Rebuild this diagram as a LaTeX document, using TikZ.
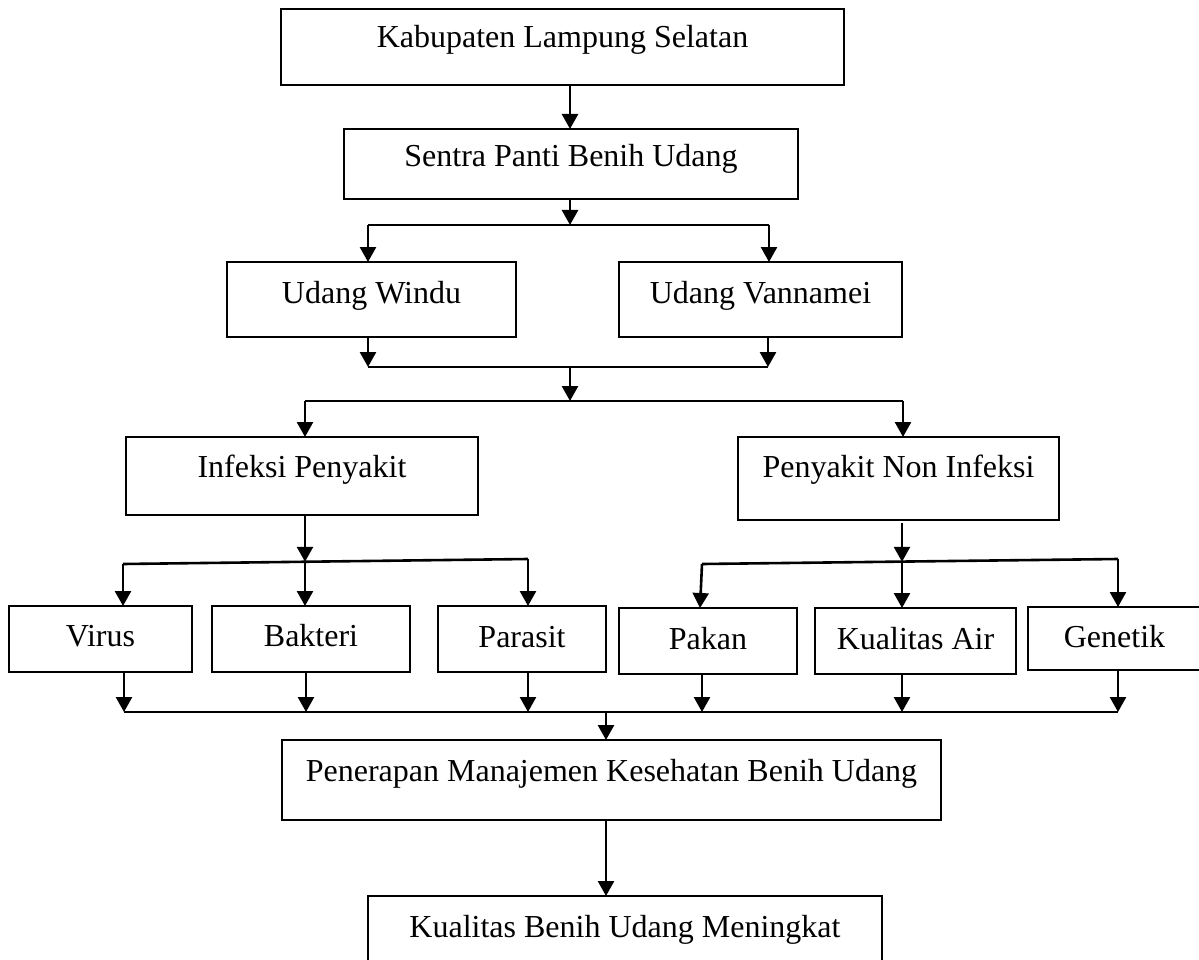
\documentclass[tikz,border=0pt]{standalone}
\usepackage{fontspec}
\setmainfont{Liberation Serif}
\usetikzlibrary{arrows.meta}
\tikzset{
  box/.style={draw, line width=2.8pt, inner xsep=0pt, inner ysep=0pt, outer sep=0pt,
    anchor=north west, align=center, font=\fontsize{32}{38}\selectfont, text height=40pt},
  link/.style={line width=2.6pt},
  arr/.style={line width=2.6pt, -{Triangle[length=15pt,width=16pt]}},
}
\begin{document}
\begin{tikzpicture}[x=1pt,y=-1pt]
\useasboundingbox (0,0) rectangle (1199,960);
\fill[white] (0,0) rectangle (1199,960);
\clip (0,0) rectangle (1199,960);

% boxes
\node[box, minimum width=563pt, minimum height=76pt, text height=39pt, text depth=37pt] (kab) at (281,9) {Kabupaten Lampung Selatan};
\node[box, minimum width=454pt, minimum height=70pt, text height=38pt, text depth=32pt] (sentra) at (344,129) {Sentra Panti Benih Udang};
\node[box, minimum width=289pt, minimum height=75pt, text height=41pt, text depth=34pt] (windu) at (227,262) {Udang Windu};
\node[box, minimum width=283pt, minimum height=75pt, text height=41pt, text depth=34pt] (vann) at (619,262) {Udang Vannamei};
\node[box, minimum width=352pt, minimum height=78pt, text height=40pt, text depth=38pt] (inf) at (126,437) {Infeksi Penyakit};
\node[box, minimum width=321pt, minimum height=83pt, text height=40pt, text depth=43pt] (noninf) at (738,437) {Penyakit Non Infeksi};
\node[box, minimum width=183pt, minimum height=66pt, text height=40pt, text depth=26pt] (virus) at (9,606) {Virus};
\node[box, minimum width=198pt, minimum height=66pt, text height=40pt, text depth=26pt] (bakteri) at (212,606) {Bakteri};
\node[box, minimum width=168pt, minimum height=66pt, text height=41pt, text depth=25pt] (parasit) at (438,606) {Parasit};
\node[box, minimum width=178pt, minimum height=66pt, text height=41pt, text depth=25pt] (pakan) at (619,608) {Pakan};
\node[box, minimum width=201pt, minimum height=66pt, text height=41pt, text depth=25pt] (air) at (815,608) {Kualitas Air};
\node[box, minimum width=173pt, minimum height=63pt, text height=40pt, text depth=23pt] (genetik) at (1028,607) {Genetik};
\node[box, minimum width=659pt, minimum height=80pt, text height=41pt, text depth=39pt] (penerapan) at (282,740) {Penerapan Manajemen Kesehatan Benih Udang};
\node[box, minimum width=514pt, minimum height=76pt, text height=41pt, text depth=35pt] (hasil) at (368,896) {Kualitas Benih Udang Meningkat};

% junction points
\coordinate (f1) at (570,225);
\coordinate (f1l) at (368,225);
\coordinate (f1r) at (769,225);
\coordinate (m1l) at (368,367);
\coordinate (m1r) at (768,367);
\coordinate (m1) at (570,367);
\coordinate (f2) at (570,401);
\coordinate (f2l) at (305,401);
\coordinate (f2r) at (903,401);
\coordinate (f3l) at (123,564);
\coordinate (f3m) at (305,561.8);
\coordinate (f3r) at (528,559);
\coordinate (f4l) at (702,564);
\coordinate (f4m) at (902,561.8);
\coordinate (f4r) at (1118,559);
\coordinate (b1) at (124,712);
\coordinate (b2) at (306,712);
\coordinate (b3) at (528,712);
\coordinate (b4) at (702,712);
\coordinate (b5) at (902,712);
\coordinate (b6) at (1118,712);
\coordinate (bm) at (606,712);

% connectors
\draw[arr] (kab.south -| f1) -- (sentra.north -| f1);
\draw[arr] (sentra.south -| f1) -- (f1);
\draw[link] (f1l) -- (f1r);
\draw[arr] (f1l) -- (f1l |- windu.north);
\draw[arr] (f1r) -- (f1r |- vann.north);

\draw[arr] (windu.south -| m1l) -- (m1l);
\draw[arr] (vann.south -| m1r) -- (m1r);
\draw[link] (m1l) -- (m1r);
\draw[arr] (m1) -- (f2);
\draw[link] (f2l) -- (f2r);
\draw[arr] (f2l) -- (f2l |- inf.north);
\draw[arr] (f2r) -- (f2r |- noninf.north);

\draw[arr] (inf.south -| f3m) -- (f3m);
\draw[link] (f3l) -- (f3r);
\draw[arr] (f3l) -- (f3l |- virus.north);
\draw[arr] (f3m) -- (f3m |- bakteri.north);
\draw[arr] (f3r) -- (f3r |- parasit.north);

\draw[arr] ([yshift=-3pt]noninf.south -| f4m) -- (f4m);
\draw[link] (f4l) -- (f4r);
\draw[arr] (f4l) -- ([xshift=-2pt]f4l |- pakan.north);
\draw[arr] (f4m) -- (f4m |- air.north);
\draw[arr] (f4r) -- (f4r |- genetik.north);

\draw[arr] (virus.south -| b1) -- (b1);
\draw[arr] (bakteri.south -| b2) -- (b2);
\draw[arr] (parasit.south -| b3) -- (b3);
\draw[arr] (pakan.south -| b4) -- (b4);
\draw[arr] (air.south -| b5) -- (b5);
\draw[arr] (genetik.south -| b6) -- (b6);
\draw[link] (b1) -- (b6);
\draw[arr] (bm) -- (bm |- penerapan.north);
\draw[arr] (penerapan.south -| bm) -- (hasil.north -| bm);
\end{tikzpicture}
\end{document}
